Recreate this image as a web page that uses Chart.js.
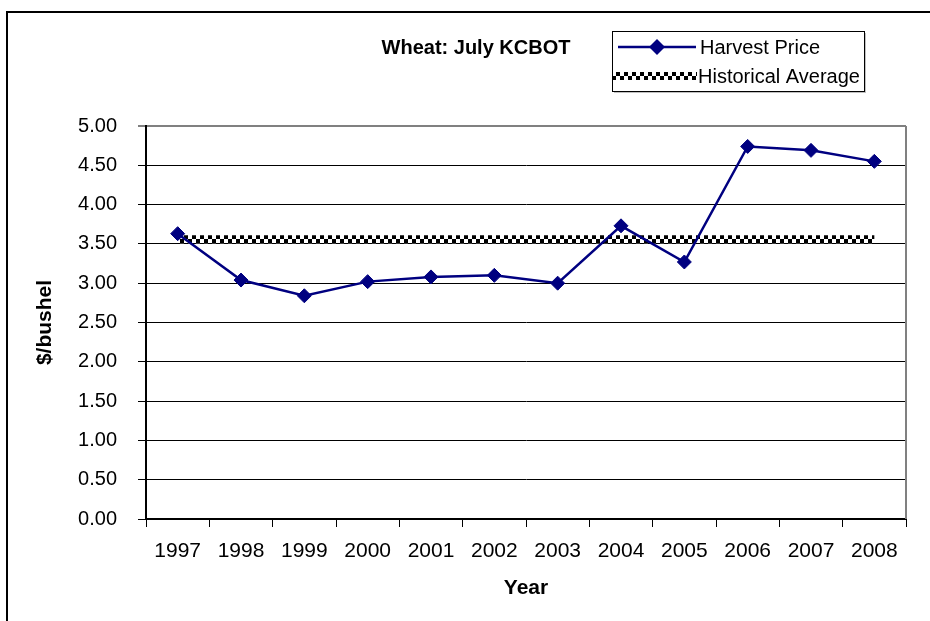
<!DOCTYPE html>
<html>
<head>
<meta charset="utf-8">
<script src="https://cdn.jsdelivr.net/npm/chart.js@4/dist/chart.umd.min.js"></script>
<style>
html,body{margin:0;padding:0;background:#fff;}
#wrap{position:relative;width:930px;height:621px;}
</style>
</head>
<body>
<div id="wrap"><canvas id="c" width="930" height="621"></canvas></div>
<script>
const years = ['1997','1998','1999','2000','2001','2002','2003','2004','2005','2006','2007','2008'];
const harvestPrice = [3.63, 3.04, 2.84, 3.02, 3.08, 3.10, 3.00, 3.73, 3.27, 4.74, 4.69, 4.55];
const historicalAverage = [3.56, 3.56, 3.56, 3.56, 3.56, 3.56, 3.56, 3.56, 3.56, 3.56, 3.56, 3.56];
const yTicks = [0, 0.5, 1, 1.5, 2, 2.5, 3, 3.5, 4, 4.5, 5];
const chartTitle = 'Wheat: July KCBOT';
const seriesNames = ['Harvest Price', 'Historical Average'];
const axisTitles = {x: 'Year', y: '$/bushel'};

const FONT = "'Liberation Sans', Arial, sans-serif";
const NAVY = '#000080';

function makeChecker(){
  const c = document.createElement('canvas');
  c.width = 8; c.height = 8;
  const g = c.getContext('2d');
  g.fillStyle = '#fff'; g.fillRect(0,0,8,8);
  g.fillStyle = '#000';
  g.fillRect(0,0,4,4); g.fillRect(4,4,4,4);
  return c;
}
const checkerCanvas = makeChecker();
const ctx0 = document.getElementById('c').getContext('2d');
const checkerPattern = ctx0.createPattern(checkerCanvas, 'repeat');

const decor = {
  id: 'decor',
  beforeDatasetsDraw(chart){
    const y = chart.scales.y.getPixelForValue(historicalAverage[0]);
    if (checkerPattern.setTransform) {
      checkerPattern.setTransform(new DOMMatrix().translate(0, Math.round(y) - 4));
    }
  },
  afterDraw(chart){
    const ctx = chart.ctx;
    const a = chart.chartArea;
    ctx.save();
    // outer frame (top and left)
    ctx.strokeStyle = '#000'; ctx.lineWidth = 2;
    ctx.beginPath();
    ctx.moveTo(930, 12); ctx.lineTo(7, 12); ctx.lineTo(7, 621);
    ctx.stroke();
    // plot-area right border (grey)
    ctx.strokeStyle = '#808080'; ctx.lineWidth = 2;
    ctx.beginPath();
    ctx.moveTo(a.right, a.top); ctx.lineTo(a.right, a.bottom);
    ctx.stroke();
    // title
    ctx.fillStyle = '#000';
    ctx.font = 'bold 20px ' + FONT;
    ctx.textAlign = 'center'; ctx.textBaseline = 'middle';
    ctx.fillText(chartTitle, 476, 48);
    // legend box
    const bx = 612, by = 31, bw = 252, bh = 60;
    ctx.fillStyle = '#c0c0c0';
    ctx.fillRect(bx + 2, by + bh, bw, 2);
    ctx.fillRect(bx + bw, by + 2, 2, bh);
    ctx.fillStyle = '#fff';
    ctx.fillRect(bx, by, bw, bh);
    ctx.strokeStyle = '#000'; ctx.lineWidth = 1;
    ctx.strokeRect(bx + 0.5, by + 0.5, bw, bh);
    // row 1
    const r1 = 47;
    ctx.strokeStyle = NAVY; ctx.lineWidth = 2.5;
    ctx.beginPath(); ctx.moveTo(618, r1); ctx.lineTo(696, r1); ctx.stroke();
    ctx.fillStyle = NAVY;
    ctx.beginPath();
    ctx.moveTo(657, r1 - 8); ctx.lineTo(665, r1); ctx.lineTo(657, r1 + 8); ctx.lineTo(649, r1);
    ctx.closePath(); ctx.fill();
    // row 2
    const r2 = 76;
    const lp = ctx.createPattern(checkerCanvas, 'repeat');
    if (lp.setTransform) lp.setTransform(new DOMMatrix().translate(0, r2 - 4));
    ctx.fillStyle = lp;
    ctx.fillRect(613, r2 - 4, 84, 8);
    // legend text
    ctx.fillStyle = '#000';
    ctx.font = '20px ' + FONT;
    ctx.textAlign = 'left'; ctx.textBaseline = 'middle';
    ctx.fillText(seriesNames[0], 700, r1 + 1);
    ctx.fillText(seriesNames[1], 698, r2 + 1);
    ctx.restore();
  }
};

new Chart(document.getElementById('c'), {
  type: 'line',
  data: {
    labels: years,
    datasets: [
      {
        label: seriesNames[0],
        data: harvestPrice,
        borderColor: NAVY,
        backgroundColor: NAVY,
        borderWidth: 2.5,
        pointStyle: 'rectRot',
        pointRadius: 7,
        pointHoverRadius: 7,
        pointBackgroundColor: NAVY,
        pointBorderColor: NAVY,
        pointBorderWidth: 1,
        tension: 0,
        fill: false
      },
      {
        label: seriesNames[1],
        data: historicalAverage,
        borderColor: checkerPattern,
        borderWidth: 8,
        pointRadius: 0,
        pointHoverRadius: 0,
        tension: 0,
        fill: false,
        borderCapStyle: 'butt'
      }
    ]
  },
  options: {
    responsive: false,
    animation: false,
    events: [],
    layout: {padding: {top: 126, right: 24, left: 0, bottom: 0}},
    plugins: {
      legend: {display: false},
      title: {display: false},
      tooltip: {enabled: false}
    },
    scales: {
      x: {
        type: 'category',
        offset: true,
        grid: {
          offset: true,
          drawOnChartArea: false,
          drawTicks: true,
          tickLength: 8,
          color: '#000',
          lineWidth: 1
        },
        border: {color: '#000', width: 2},
        ticks: {
          color: '#000',
          font: {family: FONT, size: 21},
          padding: 12,
          maxRotation: 0,
          autoSkip: false
        },
        title: {
          display: true,
          text: axisTitles.x,
          color: '#000',
          font: {family: FONT, size: 21, weight: 'bold'},
          padding: {top: 0, bottom: 20}
        },
        afterFit(scale){ scale.height = 102; }
      },
      y: {
        min: 0,
        max: 5,
        afterBuildTicks(scale){ scale.ticks = yTicks.map(v => ({value: v})); },
        grid: {
          color: (c) => (c.tick && c.tick.value === 5) ? '#808080' : '#000',
          lineWidth: (c) => (c.tick && c.tick.value === 5) ? 2 : 1,
          tickLength: 8,
          drawTicks: true
        },
        border: {color: '#000', width: 2},
        ticks: {
          color: '#000',
          font: {family: FONT, size: 20},
          padding: 21,
          callback: (v) => Number(v).toFixed(2)
        },
        title: {
          display: true,
          text: axisTitles.y,
          color: '#000',
          font: {family: FONT, size: 21, weight: 'bold'},
          padding: {top: 33, bottom: 0}
        },
        afterFit(scale){ scale.width = 146; }
      }
    }
  },
  plugins: [decor]
});
</script>
</body>
</html>
